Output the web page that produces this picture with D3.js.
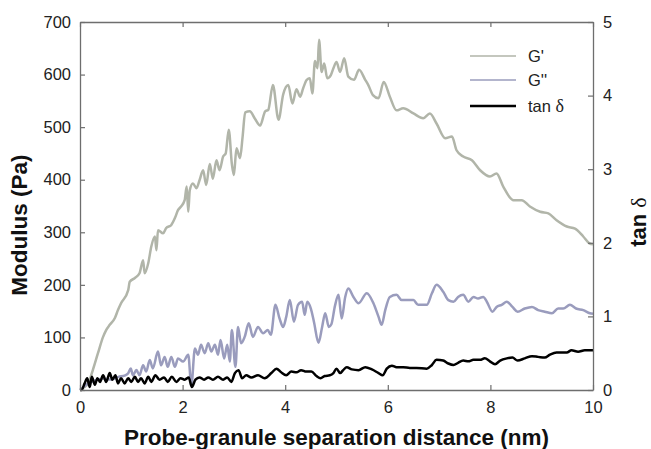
<!DOCTYPE html>
<html><head><meta charset="utf-8">
<script src="https://cdn.jsdelivr.net/npm/d3@7"></script>
<style>body{margin:0;background:#fff}svg{display:block}</style>
</head><body><svg id="c" width="651" height="449"></svg>
<script>
// G' (storage modulus), Pa
const gpX = [0,0.08,0.16,0.25,0.35,0.45,0.51,0.58,0.68,0.74,0.80,0.94,0.97,1.07,1.16,1.23,1.26,1.33,1.39,1.46,1.49,1.52,1.62,1.68,1.78,1.85,1.91,1.97,2.04,2.08,2.11,2.14,2.20,2.27,2.33,2.40,2.46,2.53,2.59,2.66,2.72,2.79,2.84,2.90,2.96,3.00,3.05,3.12,3.17,3.22,3.31,3.41,3.51,3.61,3.67,3.76,3.87,3.96,4.06,4.14,4.22,4.29,4.35,4.42,4.48,4.53,4.58,4.63,4.66,4.71,4.76,4.82,4.89,4.94,5.00,5.07,5.15,5.23,5.34,5.44,5.56,5.62,5.71,5.82,5.92,6.04,6.17,6.30,6.50,6.69,6.82,6.95,7.12,7.25,7.34,7.47,7.64,7.80,7.99,8.12,8.25,8.45,8.61,8.77,8.97,9.13,9.29,9.49,9.65,9.81,9.93,10.0];
const gpY = [0,5,13,38,70,101,114,124,137,152,165,190,206,213,222,247,222,241,273,292,266,304,298,308,314,327,342,349,361,387,339,380,393,384,399,418,390,430,402,437,418,444,450,495,430,409,460,441,482,528,530,516,503,530,533,580,514,562,580,545,572,558,574,590,593,564,626,612,666,605,621,593,599,612,624,605,631,596,590,609,590,580,561,555,586,558,532,536,526,517,526,507,479,482,456,444,437,418,406,412,387,361,361,349,339,336,323,311,307,292,279,277];
// G'' (loss modulus), Pa
const gppX = [0,0.15,0.3,0.45,0.6,0.75,0.88,0.94,0.99,1.03,1.10,1.16,1.23,1.29,1.36,1.42,1.52,1.58,1.65,1.71,1.78,1.85,1.91,2.01,2.11,2.17,2.24,2.30,2.36,2.43,2.50,2.56,2.63,2.69,2.74,2.81,2.87,2.92,2.96,3.03,3.08,3.14,3.21,3.29,3.37,3.47,3.57,3.66,3.72,3.81,3.89,3.96,4.02,4.09,4.17,4.25,4.33,4.38,4.43,4.50,4.56,4.65,4.72,4.78,4.85,4.90,4.97,5.04,5.10,5.17,5.23,5.33,5.43,5.59,5.72,5.82,5.88,5.95,6.04,6.17,6.27,6.40,6.50,6.59,6.76,6.86,6.95,7.08,7.18,7.28,7.37,7.47,7.57,7.67,7.76,7.86,7.93,8.04,8.12,8.22,8.32,8.43,8.53,8.67,8.81,8.93,9.06,9.20,9.32,9.42,9.55,9.67,9.81,9.94,10.0];
const gppY = [0,12,18,22,20,25,28,32,41,28,38,28,47,35,57,41,73,47,63,44,63,44,60,54,67,8,79,67,86,70,89,73,86,67,95,60,86,54,114,44,120,89,101,127,101,120,108,114,105,162,136,120,139,171,130,162,168,143,168,155,130,90,120,146,120,125,160,181,136,177,193,177,165,184,165,139,124,152,177,181,171,171,171,162,162,184,200,187,171,168,177,181,168,177,174,177,168,149,158,162,168,158,149,155,158,152,149,146,155,155,162,155,152,146,145];
// tan delta (right axis)
const tanX = [0,0.03,0.09,0.14,0.19,0.23,0.29,0.34,0.39,0.45,0.51,0.58,0.63,0.69,0.74,0.80,0.87,0.94,1.00,1.07,1.13,1.19,1.26,1.33,1.39,1.47,1.55,1.64,1.71,1.79,1.88,1.96,2.04,2.12,2.18,2.25,2.33,2.42,2.50,2.59,2.69,2.79,2.87,2.95,3.02,3.09,3.16,3.24,3.34,3.47,3.60,3.73,3.83,3.92,4.02,4.12,4.22,4.31,4.41,4.51,4.61,4.69,4.77,4.87,4.94,5.00,5.07,5.13,5.20,5.30,5.43,5.56,5.69,5.82,5.90,5.98,6.08,6.17,6.30,6.43,6.56,6.76,6.86,6.95,7.08,7.18,7.28,7.37,7.47,7.57,7.67,7.80,7.89,7.99,8.09,8.19,8.32,8.43,8.53,8.67,8.81,8.93,9.06,9.16,9.29,9.39,9.49,9.58,9.71,9.84,10.0];
const tanY = [0,0,0.09,0.16,0.04,0.18,0.07,0.16,0.11,0.20,0.11,0.23,0.14,0.20,0.09,0.16,0.09,0.16,0.11,0.18,0.11,0.16,0.09,0.18,0.11,0.20,0.14,0.17,0.11,0.18,0.11,0.16,0.14,0.17,0.04,0.14,0.17,0.14,0.17,0.14,0.18,0.14,0.17,0.11,0.23,0.27,0.16,0.20,0.17,0.20,0.16,0.23,0.29,0.24,0.20,0.25,0.24,0.27,0.25,0.25,0.19,0.16,0.19,0.20,0.23,0.29,0.23,0.27,0.31,0.28,0.27,0.31,0.28,0.23,0.20,0.29,0.33,0.31,0.31,0.30,0.30,0.29,0.34,0.41,0.40,0.36,0.34,0.37,0.40,0.39,0.41,0.41,0.43,0.39,0.35,0.40,0.43,0.44,0.40,0.43,0.46,0.45,0.44,0.48,0.51,0.51,0.51,0.54,0.52,0.54,0.54];

const xTicks = [0,2,4,6,8,10];
const yTicks = [0,100,200,300,400,500,600,700];
const tTicks = [0,1,2,3,4,5];
const seriesNames = ["G'", "G''", "tan δ"];
const seriesColors = ["#b1b5a9", "#9a9cbd", "#000000"];

const L = 80, R = 593, T = 22, B = 390;
const svg = d3.select("#c");
const x = d3.scaleLinear().domain([0,10]).range([L,R]);
const y = d3.scaleLinear().domain([0,700]).range([B,T]);
const yt = d3.scaleLinear().domain([0,5]).range([B,T]);
const font = "'Liberation Sans', Arial, sans-serif";

// lines
const mk = (sc) => d3.line().x(d => x(d[0])).y(d => sc(d[1])).curve(d3.curveMonotoneX);
const series = [
  {xs: gpX, ys: gpY, sc: y, w: 2.5},
  {xs: gppX, ys: gppY, sc: y, w: 2.5},
  {xs: tanX, ys: tanY, sc: yt, w: 2.5}
];
series.forEach((s, i) => {
  svg.append("path").datum(s.xs.map((v, j) => [v, s.ys[j]]))
    .attr("d", mk(s.sc)).attr("fill", "none")
    .attr("stroke", seriesColors[i]).attr("stroke-width", s.w)
    .attr("stroke-linejoin", "round");
});

// axes
const axCol = "#6e6e6e";
function style(g){
  g.select(".domain").attr("stroke", axCol).attr("stroke-width", 1.3);
  g.selectAll(".tick line").attr("stroke", axCol).attr("stroke-width", 1.2);
  g.selectAll("text").attr("fill", "#222").style("font-family", font).style("font-size", "16.5px");
}
svg.append("g").attr("transform", `translate(0,${B})`)
  .call(d3.axisBottom(x).tickValues(xTicks).tickSize(-5).tickPadding(11).tickSizeOuter(0)).call(style);
svg.append("g").attr("transform", `translate(0,${T})`)
  .call(d3.axisTop(x).tickValues(xTicks).tickSize(-5).tickFormat("").tickSizeOuter(0)).call(style);
svg.append("g").attr("transform", `translate(${L},0)`)
  .call(d3.axisLeft(y).tickValues(yTicks).tickSize(-5).tickPadding(9).tickSizeOuter(0)).call(style);
svg.append("g").attr("transform", `translate(${R},0)`)
  .call(d3.axisRight(yt).tickValues(tTicks).tickFormat(d3.format("d")).tickSize(-5).tickPadding(10).tickSizeOuter(0)).call(style);

// titles
svg.append("text").attr("x", (L+R)/2).attr("y", 445).attr("text-anchor", "middle")
  .style("font-family", font).style("font-size", "22.5px").style("font-weight", "bold").attr("fill", "#111")
  .text("Probe-granule separation distance (nm)");
svg.append("text").attr("transform", "translate(27,225) rotate(-90)").attr("text-anchor", "middle")
  .style("font-family", font).style("font-size", "22.5px").style("font-weight", "bold").attr("fill", "#111")
  .text("Modulus (Pa)");
const tt = svg.append("text").attr("transform", "translate(646,222) rotate(-90)").attr("text-anchor", "middle")
  .style("font-family", font).style("font-size", "22px").style("font-weight", "bold").attr("fill", "#111");
tt.append("tspan").text("tan ");
tt.append("tspan").style("font-family", "'Liberation Serif', serif").style("font-weight", "normal").text("δ");

// legend
const legY = [56, 80, 106];
const legW = [1.6, 1.6, 2.6];
seriesNames.forEach((n, i) => {
  svg.append("line").attr("x1", 470).attr("x2", 516).attr("y1", legY[i]).attr("y2", legY[i])
    .attr("stroke", seriesColors[i]).attr("stroke-width", legW[i]);
  const t = svg.append("text").attr("x", 528).attr("y", legY[i] + 6)
    .style("font-family", font).style("font-size", "16.5px").attr("fill", "#222");
  if (i < 2) t.text(n);
  else { t.append("tspan").text("tan "); t.append("tspan").style("font-family", "'Liberation Serif', serif").style("font-size","18px").text("δ"); }
});
</script></body></html>
